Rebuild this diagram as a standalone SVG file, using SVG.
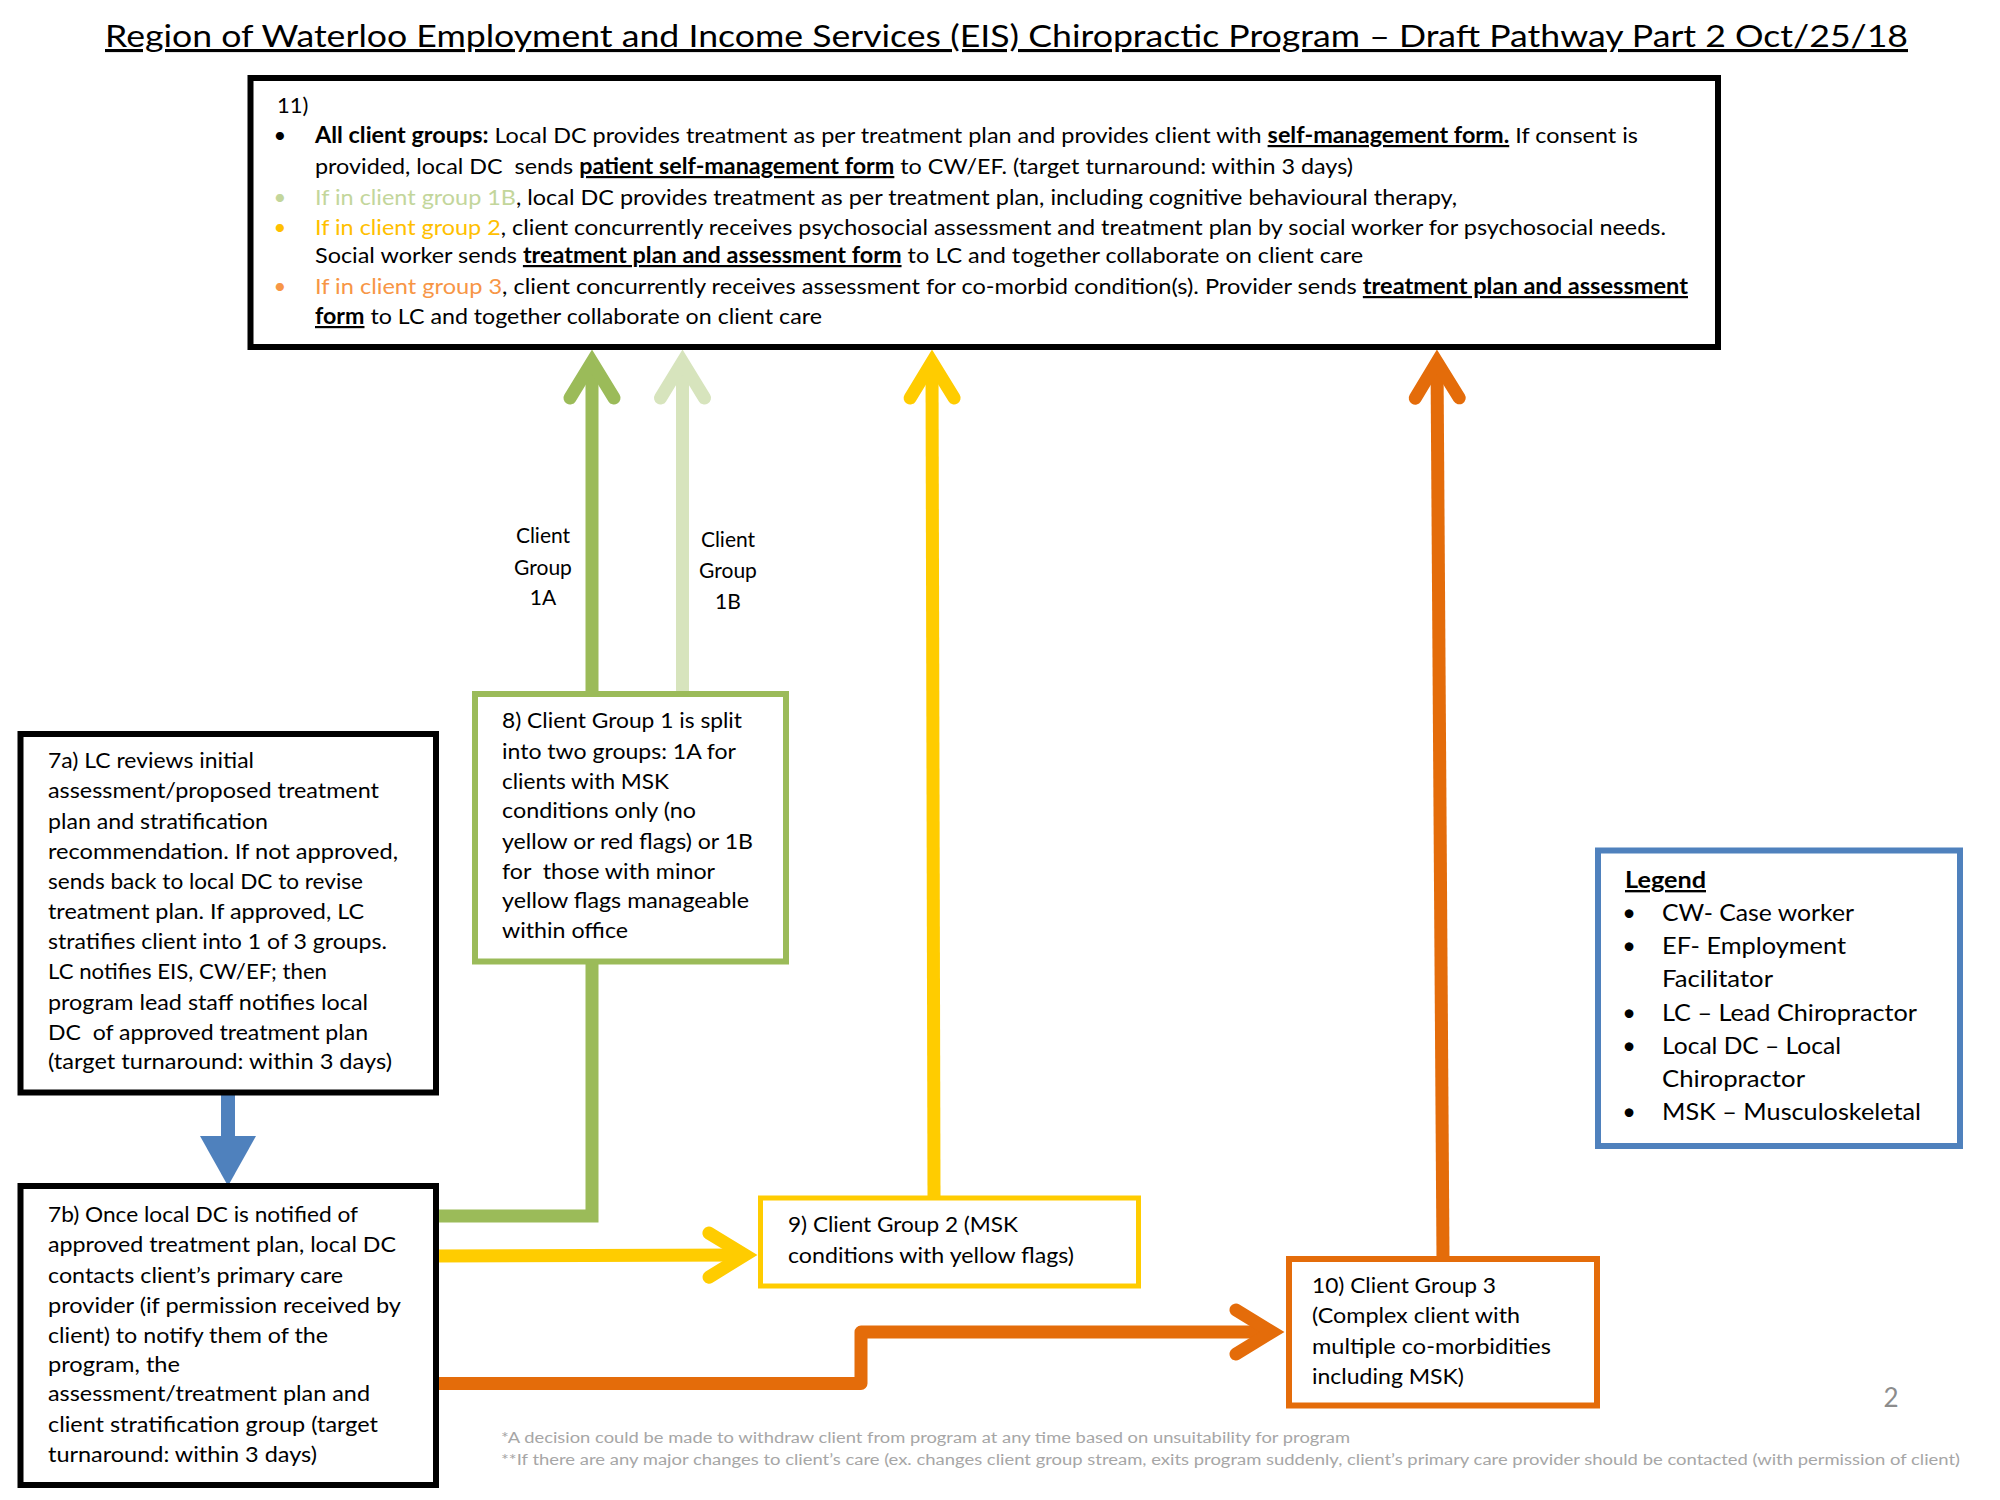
<svg xmlns="http://www.w3.org/2000/svg" width="2000" height="1500" viewBox="0 0 2000 1500">
<style>
text { font-family: Lato, "Liberation Sans", "DejaVu Sans", sans-serif; fill: #000; }
.t { font-size: 21.5px; }
.t11 { font-size: 22px; }
.lg { font-size: 23.5px; }
.lbl { font-size: 21px; text-anchor: middle; }
.b { font-weight: bold; }
.u { text-decoration: underline; }
.box { fill: #fff; stroke-width: 6; }
.conn { fill: none; stroke-width: 13; }
.foot { font-size: 15.5px; fill: #a6a6a6; }
</style>
<defs>
<marker id="hGreen" markerUnits="userSpaceOnUse" orient="auto" refX="0" refY="0" markerWidth="1" markerHeight="1" style="overflow:visible"><path d="M-36,-22 L0,0 L-36,22" fill="none" stroke="#9bbb59" stroke-width="13" stroke-linecap="round" stroke-linejoin="miter"/></marker>
<marker id="hLight" markerUnits="userSpaceOnUse" orient="auto" refX="0" refY="0" markerWidth="1" markerHeight="1" style="overflow:visible"><path d="M-36,-22 L0,0 L-36,22" fill="none" stroke="#d7e4bd" stroke-width="13" stroke-linecap="round" stroke-linejoin="miter"/></marker>
<marker id="hYellow" markerUnits="userSpaceOnUse" orient="auto" refX="0" refY="0" markerWidth="1" markerHeight="1" style="overflow:visible"><path d="M-36,-22 L0,0 L-36,22" fill="none" stroke="#ffcc00" stroke-width="13" stroke-linecap="round" stroke-linejoin="miter"/></marker>
<marker id="hOrange" markerUnits="userSpaceOnUse" orient="auto" refX="0" refY="0" markerWidth="1" markerHeight="1" style="overflow:visible"><path d="M-36,-22 L0,0 L-36,22" fill="none" stroke="#e46c0a" stroke-width="13" stroke-linecap="round" stroke-linejoin="miter"/></marker>
<marker id="hBlue" markerUnits="userSpaceOnUse" orient="auto" refX="0" refY="0" markerWidth="1" markerHeight="1" style="overflow:visible"><polygon points="0,-28 50,0 0,28" fill="#4f81bd"/></marker>
</defs>

<rect x="0" y="0" width="2000" height="1500" fill="#fff"/>

<g id="title">
<text x="105" y="47" font-size="31" class="u" textLength="1803" lengthAdjust="spacingAndGlyphs">Region of Waterloo Employment and Income Services (EIS) Chiropractic Program – Draft Pathway Part 2 Oct/25/18</text>
</g>

<g id="connectors">
<path class="conn" stroke="#9bbb59" d="M592,694 L592,362" marker-end="url(#hGreen)"/>
<path class="conn" stroke="#d7e4bd" d="M682.5,694 L682.5,362" marker-end="url(#hLight)"/>
<path class="conn" stroke="#ffcc00" d="M934,1198 L932,362" marker-end="url(#hYellow)"/>
<path class="conn" stroke="#e46c0a" d="M1443,1259 L1437,362" marker-end="url(#hOrange)"/>
<path class="conn" stroke="#9bbb59" stroke-linejoin="miter" d="M436,1216 L592,1216 L592,961"/>
<path class="conn" stroke="#ffcc00" d="M436,1256 L745,1255" marker-end="url(#hYellow)"/>
<path class="conn" stroke="#e46c0a" stroke-linejoin="round" d="M436,1383.5 L861,1383.5 L861,1332 L1272,1332" marker-end="url(#hOrange)"/>
<path fill="none" stroke="#4f81bd" stroke-width="14" d="M228,1094 L228,1136" marker-end="url(#hBlue)"/>
</g>

<g id="node11">
<rect class="box" x="250.5" y="78" width="1467.5" height="269" stroke="#000"/>
<text class="t11" x="277" y="113">11)</text>
<text class="t11" x="280" y="143" text-anchor="middle">•</text>
<text class="t11" x="315" y="143" textLength="1323" lengthAdjust="spacingAndGlyphs"><tspan class="b">All client groups:</tspan> Local DC provides treatment as per treatment plan and provides client with <tspan class="b u">self-management form.</tspan> If consent is</text>
<text class="t11" x="315" y="174" textLength="1038" lengthAdjust="spacingAndGlyphs">provided, local DC&#160; sends <tspan class="b u">patient self-management form</tspan> to CW/EF. (target turnaround: within 3 days)</text>
<text class="t11" x="280" y="205" text-anchor="middle" fill="#c3d69b" style="fill:#c3d69b">•</text>
<text class="t11" x="315" y="205" textLength="1142" lengthAdjust="spacingAndGlyphs"><tspan style="fill:#c3d69b">If in client group 1B</tspan>, local DC provides treatment as per treatment plan, including cognitive behavioural therapy,</text>
<text class="t11" x="280" y="235" text-anchor="middle" style="fill:#ffc000">•</text>
<text class="t11" x="315" y="235" textLength="1351" lengthAdjust="spacingAndGlyphs"><tspan style="fill:#ffc000">If in client group 2</tspan>, client concurrently receives psychosocial assessment and treatment plan by social worker for psychosocial needs.</text>
<text class="t11" x="315" y="263" textLength="1048" lengthAdjust="spacingAndGlyphs">Social worker sends <tspan class="b u">treatment plan and assessment form</tspan> to LC and together collaborate on client care</text>
<text class="t11" x="280" y="294" text-anchor="middle" style="fill:#f79646">•</text>
<text class="t11" x="315" y="294" textLength="1373" lengthAdjust="spacingAndGlyphs"><tspan style="fill:#f79646">If in client group 3</tspan>, client concurrently receives assessment for co-morbid condition(s). Provider sends <tspan class="b u">treatment plan and assessment</tspan></text>
<text class="t11" x="315" y="324" textLength="507" lengthAdjust="spacingAndGlyphs"><tspan class="b u">form</tspan> to LC and together collaborate on client care</text>
</g>

<g id="label1A">
<text class="lbl" x="543" y="543">Client</text>
<text class="lbl" x="543" y="575">Group</text>
<text class="lbl" x="543" y="605">1A</text>
</g>
<g id="label1B">
<text class="lbl" x="728" y="547">Client</text>
<text class="lbl" x="728" y="578">Group</text>
<text class="lbl" x="728" y="609">1B</text>
</g>

<g id="node7a">
<rect class="box" x="20.5" y="734" width="415.5" height="358.5" stroke="#000"/>
<text class="t" x="48" y="768" textLength="206" lengthAdjust="spacingAndGlyphs">7a) LC reviews initial</text>
<text class="t" x="48" y="798" textLength="331" lengthAdjust="spacingAndGlyphs">assessment/proposed treatment</text>
<text class="t" x="48" y="828.5" textLength="220" lengthAdjust="spacingAndGlyphs">plan and stratification</text>
<text class="t" x="48" y="859" textLength="350" lengthAdjust="spacingAndGlyphs">recommendation. If not approved,</text>
<text class="t" x="48" y="889" textLength="315" lengthAdjust="spacingAndGlyphs">sends back to local DC to revise</text>
<text class="t" x="48" y="919" textLength="316" lengthAdjust="spacingAndGlyphs">treatment plan. If approved, LC</text>
<text class="t" x="48" y="949" textLength="339" lengthAdjust="spacingAndGlyphs">stratifies client into 1 of 3 groups.</text>
<text class="t" x="48" y="979" textLength="279" lengthAdjust="spacingAndGlyphs">LC notifies EIS, CW/EF; then</text>
<text class="t" x="48" y="1009.5" textLength="320" lengthAdjust="spacingAndGlyphs">program lead staff notifies local</text>
<text class="t" x="48" y="1040" textLength="320" lengthAdjust="spacingAndGlyphs">DC&#160; of approved treatment plan</text>
<text class="t" x="48" y="1069" textLength="344" lengthAdjust="spacingAndGlyphs">(target turnaround: within 3 days)</text>
</g>

<g id="node7b">
<rect class="box" x="20.5" y="1186" width="415.5" height="299" stroke="#000"/>
<text class="t" x="48" y="1222" textLength="310" lengthAdjust="spacingAndGlyphs">7b) Once local DC is notified of</text>
<text class="t" x="48" y="1252" textLength="348" lengthAdjust="spacingAndGlyphs">approved treatment plan, local DC</text>
<text class="t" x="48" y="1283" textLength="295" lengthAdjust="spacingAndGlyphs">contacts client’s primary care</text>
<text class="t" x="48" y="1313" textLength="353" lengthAdjust="spacingAndGlyphs">provider (if permission received by</text>
<text class="t" x="48" y="1343" textLength="280" lengthAdjust="spacingAndGlyphs">client) to notify them of the</text>
<text class="t" x="48" y="1372" textLength="132" lengthAdjust="spacingAndGlyphs">program, the</text>
<text class="t" x="48" y="1401" textLength="322" lengthAdjust="spacingAndGlyphs">assessment/treatment plan and</text>
<text class="t" x="48" y="1432" textLength="330" lengthAdjust="spacingAndGlyphs">client stratification group (target</text>
<text class="t" x="48" y="1462" textLength="269" lengthAdjust="spacingAndGlyphs">turnaround: within 3 days)</text>
</g>

<g id="node8">
<rect class="box" x="475" y="694" width="311" height="267.5" stroke="#9bbb59"/>
<text class="t" x="502" y="728" textLength="240" lengthAdjust="spacingAndGlyphs">8) Client Group 1 is split</text>
<text class="t" x="502" y="759" textLength="234" lengthAdjust="spacingAndGlyphs">into two groups: 1A for</text>
<text class="t" x="502" y="789" textLength="167" lengthAdjust="spacingAndGlyphs">clients with MSK</text>
<text class="t" x="502" y="818" textLength="194" lengthAdjust="spacingAndGlyphs">conditions only (no</text>
<text class="t" x="502" y="849" textLength="251" lengthAdjust="spacingAndGlyphs">yellow or red flags) or 1B</text>
<text class="t" x="502" y="879" textLength="213" lengthAdjust="spacingAndGlyphs">for&#160; those with minor</text>
<text class="t" x="502" y="908" textLength="247" lengthAdjust="spacingAndGlyphs">yellow flags manageable</text>
<text class="t" x="502" y="938" textLength="126" lengthAdjust="spacingAndGlyphs">within office</text>
</g>

<g id="node9">
<rect x="760.5" y="1198" width="378" height="88" fill="#fff" stroke="#ffcc00" stroke-width="5"/>
<text class="t" x="788" y="1232" textLength="230" lengthAdjust="spacingAndGlyphs">9) Client Group 2 (MSK</text>
<text class="t" x="788" y="1263" textLength="286" lengthAdjust="spacingAndGlyphs">conditions with yellow flags)</text>
</g>

<g id="node10">
<rect class="box" x="1289" y="1259" width="308" height="146.5" stroke="#e46c0a"/>
<text class="t" x="1312" y="1293" textLength="184" lengthAdjust="spacingAndGlyphs">10) Client Group 3</text>
<text class="t" x="1312" y="1323" textLength="208" lengthAdjust="spacingAndGlyphs">(Complex client with</text>
<text class="t" x="1312" y="1354" textLength="239" lengthAdjust="spacingAndGlyphs">multiple co-morbidities</text>
<text class="t" x="1312" y="1384" textLength="152" lengthAdjust="spacingAndGlyphs">including MSK)</text>
</g>

<g id="legend">
<rect class="box" x="1598" y="850.5" width="362" height="295.5" stroke="#4f81bd"/>
<text class="lg b u" x="1625" y="888" textLength="81" lengthAdjust="spacingAndGlyphs">Legend</text>
<text class="lg" x="1629" y="921" text-anchor="middle">•</text>
<text class="lg" x="1662" y="921" textLength="192" lengthAdjust="spacingAndGlyphs">CW- Case worker</text>
<text class="lg" x="1629" y="954" text-anchor="middle">•</text>
<text class="lg" x="1662" y="954" textLength="184" lengthAdjust="spacingAndGlyphs">EF- Employment</text>
<text class="lg" x="1662" y="987" textLength="111" lengthAdjust="spacingAndGlyphs">Facilitator</text>
<text class="lg" x="1629" y="1021" text-anchor="middle">•</text>
<text class="lg" x="1662" y="1021" textLength="255" lengthAdjust="spacingAndGlyphs">LC – Lead Chiropractor</text>
<text class="lg" x="1629" y="1054" text-anchor="middle">•</text>
<text class="lg" x="1662" y="1054" textLength="179" lengthAdjust="spacingAndGlyphs">Local DC – Local</text>
<text class="lg" x="1662" y="1087" textLength="143" lengthAdjust="spacingAndGlyphs">Chiropractor</text>
<text class="lg" x="1629" y="1120" text-anchor="middle">•</text>
<text class="lg" x="1662" y="1120" textLength="259" lengthAdjust="spacingAndGlyphs">MSK – Musculoskeletal</text>
</g>

<g id="footer">
<text x="1891" y="1407" font-size="26" text-anchor="middle" style="fill:#8c8c8c">2</text>
<text class="foot" x="501" y="1443" textLength="849" lengthAdjust="spacingAndGlyphs">*A decision could be made to withdraw client from program at any time based on unsuitability for program</text>
<text class="foot" x="501" y="1465" textLength="1459" lengthAdjust="spacingAndGlyphs">**If there are any major changes to client’s care (ex. changes client group stream, exits program suddenly, client’s primary care provider should be contacted (with permission of client)</text>
</g>
</svg>
